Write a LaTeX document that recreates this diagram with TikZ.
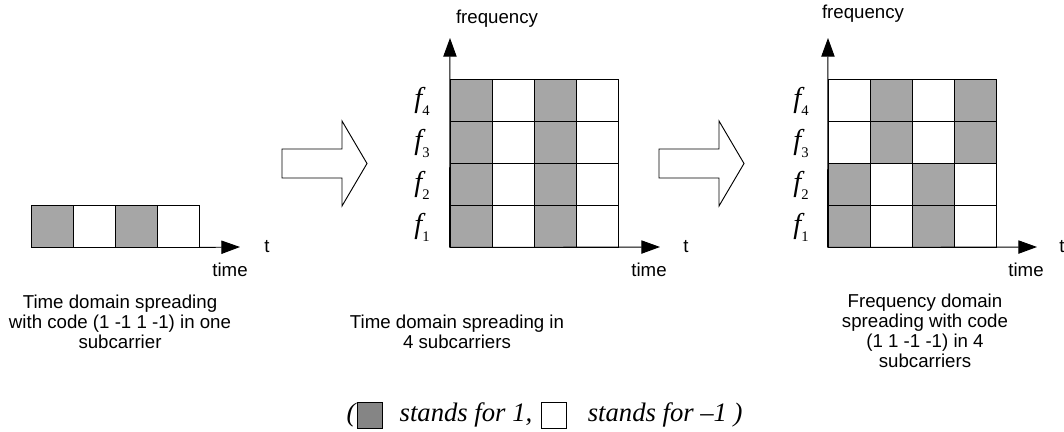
\documentclass[tikz,border=0pt]{standalone}
\usepackage{fontspec}
\setmainfont{Liberation Sans}
\newfontfamily\tms{Liberation Serif}
\usetikzlibrary{positioning,arrows.meta}

\colorlet{gris}{black!35}
\colorlet{grisfonce}{black!48}

\tikzset{case/.style = {draw, rectangle, minimum size=31.5pt, inner sep=0pt},
         axe/.style = {-{Triangle[length=14pt,width=10pt]}},
         fleche/.style = {draw, fill=white},
         txt/.style = {font=\fontsize{14}{15}\selectfont, align=center, inner sep=0pt},
         fq/.style = {font=\tms\itshape\fontsize{21.5}{22}\selectfont, inner sep=0pt, anchor=base},
         leg/.style = {font=\tms\itshape\fontsize{20}{20}\selectfont, inner sep=0pt},
         boite/.style = {draw, rectangle, minimum width=18.75pt, minimum height=19.5pt, inner sep=0pt}
        }
\newcommand{\fsub}[1]{f\raisebox{-6pt}{\upshape\fontsize{11}{11}\selectfont #1}}

\begin{document}
\begin{tikzpicture}[x=0.75pt, y=-0.75pt, line width=0.7pt]
\useasboundingbox (0,0) rectangle (1064,432);

\foreach \c/\s in {1/gris,2/white,3/gris,4/white}
  \node[case, fill=\s] (a\c) at ({10+42*\c},226) {};
\coordinate (ax) at (240,247);
\draw[axe] (a4.south east) -- (ax);
\node[txt] (at) at (267,247) {t};
\node[txt] (atime) at (230,270) {time};
\node[txt] (acap) at (120,322) {Time domain spreading\\with code (1 -1 1 -1) in one\\subcarrier};

\foreach \x in {282,659}
  \draw[fleche] (\x,149) -- ++(60,0) -- ++(0,-28) -- ++(25,42.5) -- ++(-25,42.5) -- ++(0,-28) -- ++(-60,0) -- cycle;

\foreach \c/\s in {1/gris,2/white,3/gris,4/white}
  \foreach \r in {1,...,4}
    \node[case, fill=\s] (m\c\r) at ({429+42*\c},{268-42*\r}) {};
\coordinate (mx) at (660,247);
\coordinate (my) at (450,38);
\draw[axe] (m11.south west) -- (mx);
\draw[axe] (m11.south west) -- (my);
\node[txt] (mfreq) at (497,19) {frequency};
\node[txt] (mt) at (686,247) {t};
\node[txt] (mtime) at (649,270) {time};
\foreach \r in {1,...,4}
  \node[fq] (mf\r) at (422,{275-42*\r}) {\fsub{\r}};
\node[txt] (mcap) at (457,332) {Time domain spreading in\\4 subcarriers};

\foreach \r/\a/\b in {1/gris/white,2/gris/white,3/white/gris,4/white/gris}
  \foreach \c/\s in {1/\a,2/\b,3/\a,4/\b}
    \node[case, fill=\s] (d\c\r) at ({807+42*\c},{268-42*\r}) {};
\coordinate (dx) at (1037,247);
\coordinate (dy) at (828,38);
\draw[axe] (d11.south west) -- (dx);
\draw[axe] (d11.south west) -- (dy);
\node[txt] (dfreq) at (863,14) {frequency};
\node[txt] (dt) at (1062,247) {t};
\node[txt] (dtime) at (1026,270) {time};
\foreach \r in {1,...,4}
  \node[fq] (df\r) at (801,{275-42*\r}) {\fsub{\r}};
\node[txt] (dcap) at (925,331) {Frequency domain\\spreading with code\\(1 1 -1 -1) in 4\\subcarriers};

\node[leg] (po) at (351,415) {(};
\node[boite, fill=grisfonce, right=1pt of po] (b1) {};
\node[leg, right=12pt of b1] (s1) {stands for 1,};
\node[boite, fill=white, right=6.5pt of s1] (b2) {};
\node[leg, right=15pt of b2] (s2) {stands for \textendash1 )};
\end{tikzpicture}
\end{document}
